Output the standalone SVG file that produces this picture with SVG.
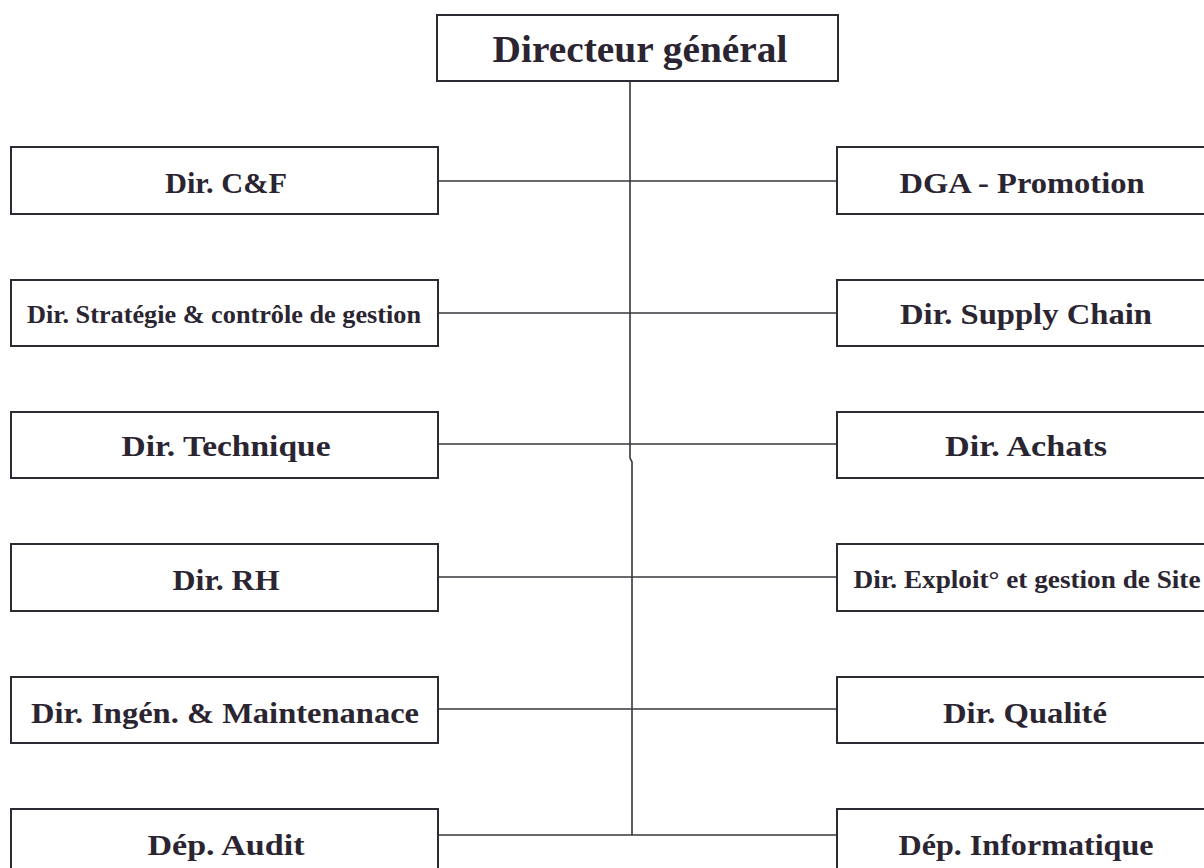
<svg xmlns="http://www.w3.org/2000/svg" width="1204" height="868" viewBox="0 0 1204 868">
<style>
.box{fill:#fff;stroke:#2e2a33;stroke-width:2}
.t{font-family:"Liberation Serif","Times New Roman",serif;font-weight:bold;font-size:29px;fill:#2b2532;text-anchor:middle}
.s{font-size:25px}
.top{font-size:37px}
.c{fill:none;stroke:#3a363d;stroke-width:1.6}
</style>
<rect width="1204" height="868" fill="#fff"/>
<g id="connectors">
<path class="c" d="M630 81 V458 L632 462 V835"/>
<line class="c" x1="438" y1="181" x2="837" y2="181"/>
<line class="c" x1="438" y1="313" x2="837" y2="313"/>
<line class="c" x1="438" y1="444" x2="837" y2="444"/>
<line class="c" x1="438" y1="577" x2="837" y2="577"/>
<line class="c" x1="438" y1="709" x2="837" y2="709"/>
<line class="c" x1="438" y1="835" x2="837" y2="835"/>
</g>
<g id="dg"><rect class="box" x="437" y="15" width="401" height="66"/><text class="t top" x="640" y="62" textLength="295" lengthAdjust="spacingAndGlyphs">Directeur général</text></g>
<g id="cf"><rect class="box" x="11" y="147" width="427" height="67"/><text class="t" x="226" y="193" textLength="122" lengthAdjust="spacingAndGlyphs">Dir. C&amp;F</text></g>
<g id="strat"><rect class="box" x="11" y="280" width="427" height="66"/><text class="t s" x="224" y="323" textLength="394" lengthAdjust="spacingAndGlyphs">Dir. Stratégie &amp; contrôle de gestion</text></g>
<g id="tech"><rect class="box" x="11" y="412" width="427" height="66"/><text class="t" x="226" y="456" textLength="209" lengthAdjust="spacingAndGlyphs">Dir. Technique</text></g>
<g id="rh"><rect class="box" x="11" y="544" width="427" height="67"/><text class="t" x="226" y="590" textLength="107" lengthAdjust="spacingAndGlyphs">Dir. RH</text></g>
<g id="ingen"><rect class="box" x="11" y="677" width="427" height="66"/><text class="t" x="225" y="723" textLength="388" lengthAdjust="spacingAndGlyphs">Dir. Ingén. &amp; Maintenanace</text></g>
<g id="audit"><rect class="box" x="11" y="809" width="427" height="80"/><text class="t" x="226" y="855" textLength="157" lengthAdjust="spacingAndGlyphs">Dép. Audit</text></g>
<g id="dga"><rect class="box" x="837" y="147" width="380" height="67"/><text class="t" x="1022" y="193" textLength="245" lengthAdjust="spacingAndGlyphs">DGA - Promotion</text></g>
<g id="supply"><rect class="box" x="837" y="280" width="380" height="66"/><text class="t" x="1026" y="324" textLength="252" lengthAdjust="spacingAndGlyphs">Dir. Supply Chain</text></g>
<g id="achats"><rect class="box" x="837" y="412" width="380" height="66"/><text class="t" x="1026" y="456" textLength="162" lengthAdjust="spacingAndGlyphs">Dir. Achats</text></g>
<g id="exploit"><rect class="box" x="837" y="544" width="380" height="67"/><text class="t s" x="1027" y="588" textLength="347" lengthAdjust="spacingAndGlyphs">Dir. Exploit° et gestion de Site</text></g>
<g id="qualite"><rect class="box" x="837" y="677" width="380" height="66"/><text class="t" x="1025" y="723" textLength="164" lengthAdjust="spacingAndGlyphs">Dir. Qualité</text></g>
<g id="info"><rect class="box" x="837" y="809" width="380" height="80"/><text class="t" x="1026" y="855" textLength="255" lengthAdjust="spacingAndGlyphs">Dép. Informatique</text></g>
</svg>
